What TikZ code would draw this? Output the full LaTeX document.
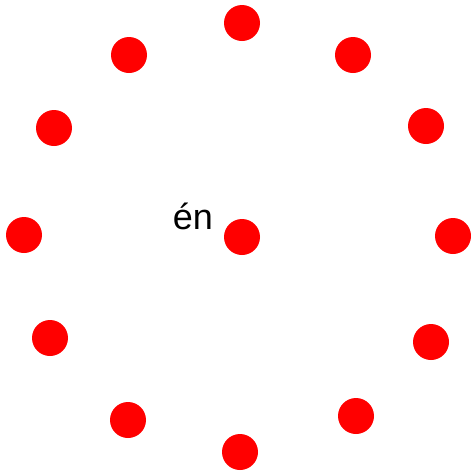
\documentclass[tikz,border=0pt]{standalone}
\usepackage{fontspec}
\setmainfont{Liberation Sans}

\begin{document}
\begin{tikzpicture}[x=1pt, y=-1pt,
    dot/.style={circle, fill=red, inner sep=0pt, minimum size=36pt}]
    \useasboundingbox (0,0) rectangle (471,472);
    % The centre dot and its label.
        \node[dot] (mid) at (242,237) {};
        \node[anchor=base, font=\fontsize{36}{36}\selectfont] (lbl) at (193,229.5) {én};
    % Below nodes are the dots of the ring.
        \node[dot] (d1) at (242,23) {};
        \node[dot] (d2) at (353,55) {};
        \node[dot] (d3) at (426,126) {};
        \node[dot] (d4) at (453,236) {};
        \node[dot] (d5) at (431,342) {};
        \node[dot] (d6) at (356,416) {};
        \node[dot] (d7) at (240,452) {};
        \node[dot] (d8) at (128,420) {};
        \node[dot] (d9) at (50,338) {};
        \node[dot] (d10) at (24,235) {};
        \node[dot] (d11) at (54,128) {};
        \node[dot] (d12) at (129,55) {};
\end{tikzpicture}
\end{document}
